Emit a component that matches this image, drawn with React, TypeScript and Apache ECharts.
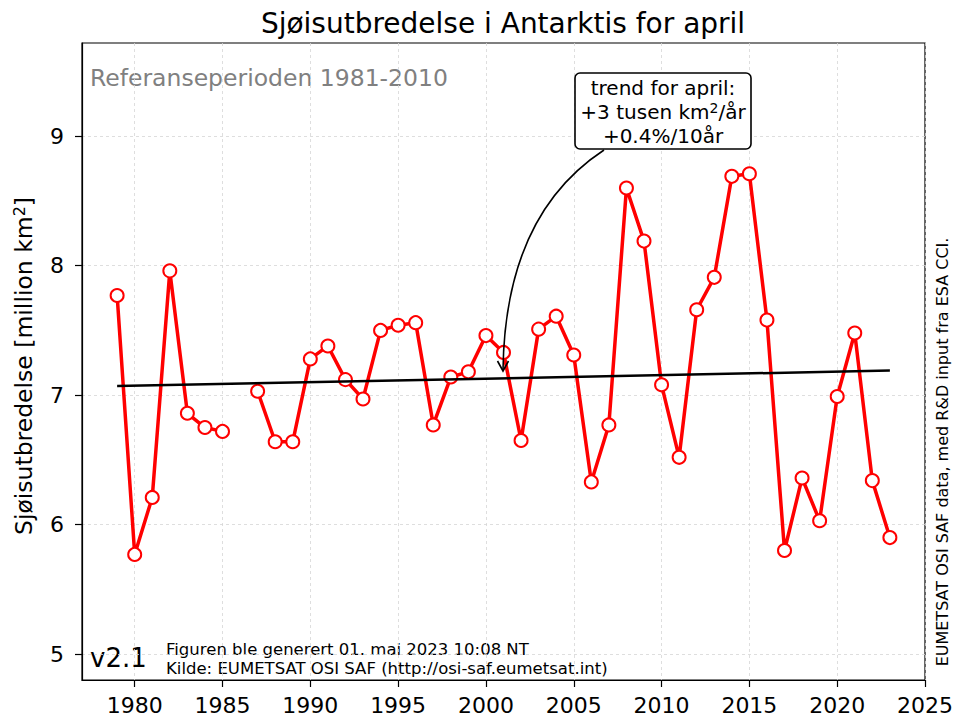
import React, { useEffect, useRef } from "react";
import * as echarts from "echarts";

const years = [
  1979, 1980, 1981, 1982, 1983, 1984, 1985, 1986, 1987, 1988, 1989, 1990,
  1991, 1992, 1993, 1994, 1995, 1996, 1997, 1998, 1999, 2000, 2001, 2002,
  2003, 2004, 2005, 2006, 2007, 2008, 2009, 2010, 2011, 2012, 2013, 2014,
  2015, 2016, 2017, 2018, 2019, 2020, 2021, 2022, 2023,
];
const extentValues: (number | null)[] = [
  7.77, 5.77, 6.21, 7.96, 6.86, 6.75, 6.72, null, 7.03, 6.64, 6.64, 7.28,
  7.38, 7.12, 6.97, 7.5, 7.54, 7.56, 6.77, 7.14, 7.18, 7.46, 7.33, 6.65,
  7.51, 7.61, 7.31, 6.33, 6.77, 8.6, 8.19, 7.08, 6.52, 7.66, 7.91, 8.69,
  8.71, 7.58, 5.8, 6.36, 6.03, 6.99, 7.48, 6.34, 5.9,
];
const trendYears = [1979, 2023];
const trendValues = [7.07, 7.19];
const xTicks = [1980, 1985, 1990, 1995, 2000, 2005, 2010, 2015, 2020, 2025];
const yTicks = [5, 6, 7, 8, 9];

const titleText = "Sjøisutbredelse i Antarktis for april";
const yLabelText = "Sjøisutbredelse [million km{sup|2}]";
const refText = "Referanseperioden 1981-2010";
const versionText = "v2.1";
const footerLines = [
  "Figuren ble generert 01. mai 2023 10:08 NT",
  "Kilde: EUMETSAT OSI SAF (http://osi-saf.eumetsat.int)",
];
const sideText = "EUMETSAT OSI SAF data, med R&D input fra ESA CCI.";
const boxLines = ["trend for april:", "+3 tusen km{sup|2}/år", "+0.4%/10år"];

const FONT = "DejaVu Sans";

export default function App() {
  const ref = useRef<HTMLDivElement>(null);
  useEffect(() => {
    document.body.style.margin = "0";
    const chart = echarts.init(ref.current!, null, { renderer: "svg" });
    const mainData = years.map((y, i) => [y, extentValues[i] === null ? "-" : extentValues[i]]);
    const trendData = trendYears.map((y, i) => [y, trendValues[i]]);
    const splitLine = {
      show: true,
      lineStyle: { color: "#d6d6d6", width: 0.8, type: [3, 3] as any },
    };
    const option: any = {
      animation: false,
      backgroundColor: "#ffffff",
      grid: {
        left: 82,
        right: 29,
        top: 43,
        bottom: 37,
        show: true,
        borderColor: "#000",
        borderWidth: 1.2,
        backgroundColor: "transparent",
        containLabel: false,
      },
      xAxis: {
        type: "value",
        min: 1977,
        max: 2025,
        minInterval: 5,
        maxInterval: 5,
        axisLine: { show: true, lineStyle: { color: "#000", width: 1.2 } },
        axisTick: {
          show: true,
          inside: false,
          length: 7,
          lineStyle: { color: "#000", width: 1.2 },
          customValues: xTicks,
        },
        axisLabel: {
          customValues: xTicks,
          fontFamily: FONT,
          fontSize: 22,
          color: "#000",
          margin: 14,
          formatter: (v: number) => (v % 5 === 0 ? String(v) : ""),
        },
        splitLine,
      },
      yAxis: {
        type: "value",
        min: 4.8,
        max: 9.72,
        minInterval: 1,
        maxInterval: 1,
        axisLine: { show: true, lineStyle: { color: "#000", width: 1.2 } },
        axisTick: {
          show: true,
          inside: false,
          length: 7,
          lineStyle: { color: "#000", width: 1.2 },
          customValues: yTicks,
        },
        axisLabel: {
          customValues: yTicks,
          fontFamily: FONT,
          fontSize: 22,
          color: "#000",
          margin: 18,
          formatter: (v: number) => (Math.abs(v - Math.round(v)) < 1e-6 ? String(Math.round(v)) : ""),
        },
        splitLine,
      },
      series: [
        {
          type: "line",
          data: mainData,
          connectNulls: false,
          symbol: "circle",
          symbolSize: 13,
          showAllSymbol: true,
          lineStyle: { color: "#ff0000", width: 3.5 },
          itemStyle: { color: "#ffffff", borderColor: "#ff0000", borderWidth: 2 },
          z: 3,
        },
        {
          type: "line",
          data: trendData,
          symbol: "none",
          lineStyle: { color: "#000", width: 2.5 },
          z: 4,
        },
      ],
      graphic: [
        {
          type: "text",
          x: 503,
          y: 23,
          style: {
            text: titleText,
            fontFamily: FONT,
            fontSize: 28,
            fill: "#000",
            align: "center",
            verticalAlign: "middle",
          },
        },
        {
          type: "text",
          x: 90,
          y: 78,
          style: {
            text: refText,
            fontFamily: FONT,
            fontSize: 23.5,
            fill: "#808080",
            align: "left",
            verticalAlign: "middle",
          },
        },
        {
          type: "text",
          x: 24,
          y: 366,
          rotation: Math.PI / 2,
          style: {
            text: yLabelText,
            fontFamily: FONT,
            fontSize: 23.5,
            fill: "#000",
            align: "center",
            verticalAlign: "middle",
            rich: {
              sup: { fontFamily: FONT, fontSize: 16, padding: [0, 0, 9, 0], fill: "#000" },
            },
          },
        },
        {
          type: "text",
          x: 942,
          y: 452,
          rotation: Math.PI / 2,
          style: {
            text: sideText,
            fontFamily: FONT,
            fontSize: 16,
            fill: "#000",
            align: "center",
            verticalAlign: "middle",
          },
        },
        {
          type: "text",
          x: 90,
          y: 658,
          style: {
            text: versionText,
            fontFamily: FONT,
            fontSize: 26,
            fill: "#000",
            align: "left",
            verticalAlign: "middle",
          },
        },
        ...footerLines.map((t, i) => ({
          type: "text",
          x: 166,
          y: 649 + i * 19,
          style: {
            text: t,
            fontFamily: FONT,
            fontSize: 16.5,
            fill: "#000",
            align: "left",
            verticalAlign: "middle",
          },
        })),
        {
          type: "bezierCurve",
          shape: { x1: 604, y1: 150, x2: 503, y2: 370, cpx1: 505, cpy1: 215 },
          style: { stroke: "#000", lineWidth: 1.6, fill: null },
          z: 10,
        },
        {
          type: "polyline",
          shape: { points: [[497.5, 361], [503, 371], [508.5, 361]] },
          style: { stroke: "#000", lineWidth: 1.6, fill: null },
          z: 10,
        },
        {
          type: "rect",
          shape: { x: 575, y: 73, width: 176, height: 76, r: 5 },
          style: { stroke: "#000", lineWidth: 1.6, fill: "#fff" },
          z: 11,
        },
        ...boxLines.map((t, i) => ({
          type: "text",
          x: 663,
          y: 88 + i * 24,
          z: 12,
          style: {
            text: t,
            fontFamily: FONT,
            fontSize: 20,
            fill: "#000",
            align: "center",
            verticalAlign: "middle",
            rich: {
              sup: { fontFamily: FONT, fontSize: 14, padding: [0, 0, 8, 0], fill: "#000" },
            },
          },
        })),
      ],
    };
    chart.setOption(option);
    return () => chart.dispose();
  }, []);
  return (
    <div
      ref={ref}
      style={{ position: "fixed", left: 0, top: 0, width: 956, height: 717 }}
    />
  );
}
